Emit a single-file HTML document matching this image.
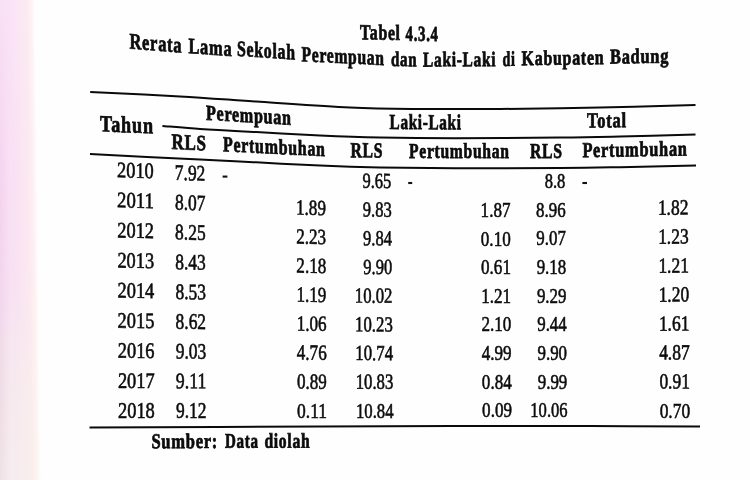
<!DOCTYPE html>
<html><head><meta charset="utf-8"><title>Tabel 4.3.4</title>
<style>
html,body{margin:0;padding:0;}
body{width:750px;height:480px;overflow:hidden;background:#fefefe;position:relative;font-family:"Liberation Serif",serif;color:#0c0c0c;}
.bg{position:absolute;left:0;top:0;width:60px;height:480px;overflow:hidden;
 background:linear-gradient(to bottom, #f9e3f6 0px, #f9e0f5 180px, #f8e1f3 290px, #f6e9ee 380px, #f6ecee 480px);}
.bg b{position:absolute;left:0;top:0;width:10px;height:480px;
 background:linear-gradient(to bottom, rgba(228,170,215,0.03) 0px, rgba(228,170,215,0.24) 200px, rgba(225,175,212,0.22) 280px, rgba(205,180,195,0.22) 400px, rgba(205,185,195,0.2) 480px);
 -webkit-mask-image:linear-gradient(to right, #000 0px, rgba(0,0,0,0.6) 4px, transparent 10px);mask-image:linear-gradient(to right, #000 0px, rgba(0,0,0,0.6) 4px, transparent 10px);}
.bg i{position:absolute;left:-10px;top:0;width:90px;height:480px;transform-origin:0 0;transform:skewX(0.72deg);
 background:linear-gradient(to right, rgba(254,240,238,0.0) 21px, rgba(254,240,236,0.5) 36px, rgba(254,246,242,0.75) 41px, #fefefe 45px);}
.t{position:absolute;left:0;top:0;line-height:1;white-space:pre;transform-origin:0 0;-webkit-text-stroke:0.6px #0c0c0c;}
.ink{position:absolute;left:0;top:0;width:750px;height:480px;filter:blur(0.35px);}
.r{position:absolute;left:0;top:0;}
</style></head><body>
<div class="bg"><b></b><i></i></div>
<div class="ink">
<svg class="r" width="750" height="480" viewBox="0 0 750 480"><path d="M90.20,92.00 C105.17,92.73 151.70,94.77 180.00,96.40 C208.30,98.03 231.67,99.95 260.00,101.80 C288.33,103.65 323.33,106.30 350.00,107.50 C376.67,108.70 395.00,108.75 420.00,109.00 C445.00,109.25 470.00,109.23 500.00,109.00 C530.00,108.77 567.42,108.25 600.00,107.60 C632.58,106.95 679.58,105.52 695.50,105.10" stroke="#0a0a0a" stroke-width="2.0" fill="none"/><path d="M162.40,126.00 C168.67,126.50 187.90,128.18 200.00,129.00 C212.10,129.82 215.00,129.83 235.00,130.90 C255.00,131.97 295.83,134.30 320.00,135.40 C344.17,136.50 357.50,137.02 380.00,137.50 C402.50,137.98 425.00,138.28 455.00,138.30 C485.00,138.32 532.50,137.90 560.00,137.60 C587.50,137.30 597.42,137.02 620.00,136.50 C642.58,135.98 682.92,134.83 695.50,134.50" stroke="#0a0a0a" stroke-width="2.0" fill="none"/><path d="M90.00,154.00 C108.33,154.93 175.83,158.40 200.00,159.60 C224.17,160.80 215.00,160.20 235.00,161.20 C255.00,162.20 295.83,164.55 320.00,165.60 C344.17,166.65 357.50,167.07 380.00,167.50 C402.50,167.93 425.00,168.12 455.00,168.20 C485.00,168.28 532.50,168.17 560.00,168.00 C587.50,167.83 597.33,167.60 620.00,167.20 C642.67,166.80 683.33,165.87 696.00,165.60" stroke="#0a0a0a" stroke-width="2.0" fill="none"/><path d="M89.50,427.40 C127.92,427.25 256.58,426.73 320.00,426.50 C383.42,426.27 425.00,426.07 470.00,426.00 C515.00,425.93 551.67,426.00 590.00,426.10 C628.33,426.20 681.67,426.52 700.00,426.60" stroke="#0a0a0a" stroke-width="2.0" fill="none"/><path d="M222.6,176.6 L227.4,176.6" stroke="#111" stroke-width="2.1" fill="none"/><path d="M408.2,183.0 L412.2,183.0" stroke="#111" stroke-width="2.1" fill="none"/><path d="M582.4,183.0 L587,183.0" stroke="#111" stroke-width="2.1" fill="none"/></svg>
<span class="t" style="font-size:21.4px;font-weight:bold;-webkit-text-stroke-width:0.75px;letter-spacing:0.96px;transform:translate(360.00px,40.10px) skewY(1.00deg) scaleX(0.7381) translate(-0.00px,-17.92px)">Tabel</span>
<span class="t" style="font-size:21.4px;font-weight:bold;-webkit-text-stroke-width:0.75px;letter-spacing:0.96px;transform:translate(405.60px,41.60px) skewY(0.88deg) scaleX(0.6945) translate(-0.00px,-17.92px)">4.3.4</span>
<span class="t" style="font-size:22.3px;font-weight:bold;-webkit-text-stroke-width:0.75px;letter-spacing:1.00px;transform:translate(129.40px,49.20px) skewY(4.38deg) scaleX(0.7390) translate(-0.00px,-18.68px)">Rerata</span>
<span class="t" style="font-size:22.0px;font-weight:bold;-webkit-text-stroke-width:0.75px;letter-spacing:0.99px;transform:translate(188.40px,53.40px) skewY(3.97deg) scaleX(0.7452) translate(-0.00px,-18.43px)">Lama</span>
<span class="t" style="font-size:21.8px;font-weight:bold;-webkit-text-stroke-width:0.75px;letter-spacing:0.98px;transform:translate(237.00px,57.00px) skewY(3.65deg) scaleX(0.7269) translate(-0.00px,-18.26px)">Sekolah</span>
<span class="t" style="font-size:21.4px;font-weight:bold;-webkit-text-stroke-width:0.75px;letter-spacing:0.96px;transform:translate(301.60px,62.10px) skewY(2.71deg) scaleX(0.7286) translate(-0.00px,-17.92px)">Perempuan</span>
<span class="t" style="font-size:21.0px;font-weight:bold;-webkit-text-stroke-width:0.75px;letter-spacing:0.94px;transform:translate(391.00px,66.60px) skewY(0.45deg) scaleX(0.7160) translate(-0.00px,-17.59px)">dan</span>
<span class="t" style="font-size:21.0px;font-weight:bold;-webkit-text-stroke-width:0.75px;letter-spacing:0.94px;transform:translate(423.00px,67.00px) skewY(-0.16deg) scaleX(0.7363) translate(-0.00px,-17.59px)">Laki-Laki</span>
<span class="t" style="font-size:21.0px;font-weight:bold;-webkit-text-stroke-width:0.75px;letter-spacing:0.94px;transform:translate(502.60px,66.60px) skewY(-0.92deg) scaleX(0.6710) translate(-0.00px,-17.59px)">di</span>
<span class="t" style="font-size:21.0px;font-weight:bold;-webkit-text-stroke-width:0.75px;letter-spacing:0.94px;transform:translate(521.60px,65.80px) skewY(-0.70deg) scaleX(0.7597) translate(-0.00px,-17.59px)">Kabupaten</span>
<span class="t" style="font-size:21.0px;font-weight:bold;-webkit-text-stroke-width:0.75px;letter-spacing:0.94px;transform:translate(610.00px,64.20px) skewY(-0.98deg) scaleX(0.7812) translate(-0.00px,-17.59px)">Badung</span>
<span class="t" style="font-size:23.2px;font-weight:bold;-webkit-text-stroke-width:0.75px;letter-spacing:1.04px;transform:translate(100.00px,131.80px) skewY(2.16deg) scaleX(0.7817) translate(-0.00px,-19.43px)">Tahun</span>
<span class="t" style="font-size:21.4px;font-weight:bold;-webkit-text-stroke-width:0.75px;letter-spacing:0.96px;transform:translate(206.00px,120.60px) skewY(3.37deg) scaleX(0.7516) translate(-0.00px,-17.92px)">Perempuan</span>
<span class="t" style="font-size:21.8px;font-weight:bold;-webkit-text-stroke-width:0.75px;letter-spacing:0.98px;transform:translate(171.40px,150.10px) skewY(2.48deg) scaleX(0.7799) translate(-0.00px,-18.26px)">RLS</span>
<span class="t" style="font-size:21.4px;font-weight:bold;-webkit-text-stroke-width:0.75px;letter-spacing:0.96px;transform:translate(223.00px,152.10px) skewY(2.81deg) scaleX(0.7453) translate(-0.00px,-17.92px)">Pertumbuhan</span>
<span class="t" style="font-size:21.4px;font-weight:bold;-webkit-text-stroke-width:0.75px;letter-spacing:0.96px;transform:translate(389.60px,129.90px) skewY(0.24deg) scaleX(0.7106) translate(-0.00px,-17.92px)">Laki-Laki</span>
<span class="t" style="font-size:21.4px;font-weight:bold;-webkit-text-stroke-width:0.75px;letter-spacing:0.96px;transform:translate(350.40px,158.20px) skewY(0.36deg) scaleX(0.7348) translate(-0.00px,-17.92px)">RLS</span>
<span class="t" style="font-size:21.4px;font-weight:bold;-webkit-text-stroke-width:0.75px;letter-spacing:0.96px;transform:translate(409.00px,159.20px) skewY(0.00deg) scaleX(0.7307) translate(-0.00px,-17.92px)">Pertumbuhan</span>
<span class="t" style="font-size:21.4px;font-weight:bold;-webkit-text-stroke-width:0.75px;letter-spacing:0.96px;transform:translate(530.00px,158.90px) skewY(0.00deg) scaleX(0.7348) translate(-0.00px,-17.92px)">RLS</span>
<span class="t" style="font-size:21.4px;font-weight:bold;-webkit-text-stroke-width:0.75px;letter-spacing:0.96px;transform:translate(587.00px,128.50px) skewY(-0.59deg) scaleX(0.7706) translate(-0.00px,-17.92px)">Total</span>
<span class="t" style="font-size:21.4px;font-weight:bold;-webkit-text-stroke-width:0.75px;letter-spacing:0.96px;transform:translate(582.40px,158.10px) skewY(-0.93deg) scaleX(0.7643) translate(-0.00px,-17.92px)">Pertumbuhan</span>
<span class="t" style="font-size:21.2px;font-weight:bold;-webkit-text-stroke-width:0.75px;letter-spacing:0.95px;transform:translate(151.40px,449.00px) skewY(-0.17deg) scaleX(0.7798) translate(-0.00px,-17.75px)">Sumber:</span>
<span class="t" style="font-size:21.0px;font-weight:bold;-webkit-text-stroke-width:0.75px;letter-spacing:0.94px;transform:translate(225.00px,448.40px) skewY(-0.17deg) scaleX(0.7175) translate(-0.00px,-17.59px)">Data</span>
<span class="t" style="font-size:21.0px;font-weight:bold;-webkit-text-stroke-width:0.75px;letter-spacing:0.94px;transform:translate(264.40px,448.30px) skewY(-0.13deg) scaleX(0.7441) translate(-0.00px,-17.59px)">diolah</span>
<span class="t" style="font-size:22.2px;transform:translate(117.00px,177.80px) skewY(1.60deg) scaleX(0.8288) translate(-0.00px,-18.59px)">2010</span>
<span class="t" style="font-size:22.2px;transform:translate(174.80px,180.40px) skewY(1.72deg) scaleX(0.7865) translate(-0.00px,-18.59px)">7.92</span>
<span class="t" style="font-size:21.6px;transform:translate(362.45px,188.85px) skewY(0.69deg) scaleX(0.7658) translate(-0.00px,-18.09px)">9.65</span>
<span class="t" style="font-size:21.6px;transform:translate(544.72px,189.10px) skewY(0.00deg) scaleX(0.7659) translate(-0.00px,-18.09px)">8.8</span>
<span class="t" style="font-size:22.2px;transform:translate(117.12px,207.90px) skewY(1.40deg) scaleX(0.8447) translate(-0.00px,-18.59px)">2011</span>
<span class="t" style="font-size:22.2px;transform:translate(174.95px,210.18px) skewY(1.50deg) scaleX(0.7865) translate(-0.00px,-18.59px)">8.07</span>
<span class="t" style="font-size:21.6px;transform:translate(296.04px,215.61px) skewY(1.50deg) scaleX(0.7914) translate(-0.00px,-18.09px)">1.89</span>
<span class="t" style="font-size:21.6px;transform:translate(362.73px,217.58px) skewY(0.60deg) scaleX(0.7658) translate(-0.00px,-18.09px)">9.83</span>
<span class="t" style="font-size:21.6px;transform:translate(480.60px,218.00px) skewY(0.00deg) scaleX(0.7914) translate(-0.00px,-18.09px)">1.87</span>
<span class="t" style="font-size:21.6px;transform:translate(536.08px,217.78px) skewY(0.00deg) scaleX(0.7828) translate(-0.00px,-18.09px)">8.96</span>
<span class="t" style="font-size:21.6px;transform:translate(657.89px,215.92px) skewY(-0.60deg) scaleX(0.8084) translate(-0.00px,-18.09px)">1.82</span>
<span class="t" style="font-size:22.2px;transform:translate(117.25px,238.00px) skewY(1.20deg) scaleX(0.8288) translate(-0.00px,-18.59px)">2012</span>
<span class="t" style="font-size:22.2px;transform:translate(175.10px,239.96px) skewY(1.29deg) scaleX(0.7865) translate(-0.00px,-18.59px)">8.25</span>
<span class="t" style="font-size:21.6px;transform:translate(296.19px,244.63px) skewY(1.29deg) scaleX(0.7914) translate(-0.00px,-18.09px)">2.23</span>
<span class="t" style="font-size:21.6px;transform:translate(363.00px,246.30px) skewY(0.52deg) scaleX(0.7658) translate(-0.00px,-18.09px)">9.84</span>
<span class="t" style="font-size:21.6px;transform:translate(480.81px,246.62px) skewY(0.00deg) scaleX(0.7914) translate(-0.00px,-18.09px)">0.10</span>
<span class="t" style="font-size:21.6px;transform:translate(536.36px,246.46px) skewY(0.00deg) scaleX(0.7828) translate(-0.00px,-18.09px)">9.07</span>
<span class="t" style="font-size:21.6px;transform:translate(658.14px,244.88px) skewY(-0.52deg) scaleX(0.8084) translate(-0.00px,-18.09px)">1.23</span>
<span class="t" style="font-size:22.2px;transform:translate(117.38px,268.10px) skewY(1.00deg) scaleX(0.8288) translate(-0.00px,-18.59px)">2013</span>
<span class="t" style="font-size:22.2px;transform:translate(175.25px,269.74px) skewY(1.07deg) scaleX(0.7865) translate(-0.00px,-18.59px)">8.43</span>
<span class="t" style="font-size:21.6px;transform:translate(296.34px,273.64px) skewY(1.07deg) scaleX(0.7914) translate(-0.00px,-18.09px)">2.18</span>
<span class="t" style="font-size:21.6px;transform:translate(363.28px,275.02px) skewY(0.43deg) scaleX(0.7658) translate(-0.00px,-18.09px)">9.90</span>
<span class="t" style="font-size:21.6px;transform:translate(481.02px,275.24px) skewY(0.00deg) scaleX(0.7914) translate(-0.00px,-18.09px)">0.61</span>
<span class="t" style="font-size:21.6px;transform:translate(536.63px,275.14px) skewY(0.00deg) scaleX(0.7828) translate(-0.00px,-18.09px)">9.18</span>
<span class="t" style="font-size:21.6px;transform:translate(658.39px,273.83px) skewY(-0.43deg) scaleX(0.8084) translate(-0.00px,-18.09px)">1.21</span>
<span class="t" style="font-size:22.2px;transform:translate(117.50px,298.20px) skewY(0.80deg) scaleX(0.8288) translate(-0.00px,-18.59px)">2014</span>
<span class="t" style="font-size:22.2px;transform:translate(175.40px,299.52px) skewY(0.86deg) scaleX(0.7865) translate(-0.00px,-18.59px)">8.53</span>
<span class="t" style="font-size:21.6px;transform:translate(296.49px,302.65px) skewY(0.86deg) scaleX(0.7914) translate(-0.00px,-18.09px)">1.19</span>
<span class="t" style="font-size:21.6px;transform:translate(354.82px,303.69px) skewY(0.34deg) scaleX(0.7752) translate(-0.00px,-18.09px)">10.02</span>
<span class="t" style="font-size:21.6px;transform:translate(481.24px,303.86px) skewY(0.00deg) scaleX(0.7914) translate(-0.00px,-18.09px)">1.21</span>
<span class="t" style="font-size:21.6px;transform:translate(536.91px,303.82px) skewY(0.00deg) scaleX(0.7828) translate(-0.00px,-18.09px)">9.29</span>
<span class="t" style="font-size:21.6px;transform:translate(658.64px,302.78px) skewY(-0.34deg) scaleX(0.8084) translate(-0.00px,-18.09px)">1.20</span>
<span class="t" style="font-size:22.2px;transform:translate(117.62px,328.30px) skewY(0.60deg) scaleX(0.8288) translate(-0.00px,-18.59px)">2015</span>
<span class="t" style="font-size:22.2px;transform:translate(175.55px,329.30px) skewY(0.64deg) scaleX(0.7865) translate(-0.00px,-18.59px)">8.62</span>
<span class="t" style="font-size:21.6px;transform:translate(296.64px,331.66px) skewY(0.64deg) scaleX(0.7914) translate(-0.00px,-18.09px)">1.06</span>
<span class="t" style="font-size:21.6px;transform:translate(355.10px,332.43px) skewY(0.26deg) scaleX(0.7752) translate(-0.00px,-18.09px)">10.23</span>
<span class="t" style="font-size:21.6px;transform:translate(481.45px,332.48px) skewY(0.00deg) scaleX(0.7914) translate(-0.00px,-18.09px)">2.10</span>
<span class="t" style="font-size:21.6px;transform:translate(537.18px,332.50px) skewY(0.00deg) scaleX(0.7828) translate(-0.00px,-18.09px)">9.44</span>
<span class="t" style="font-size:21.6px;transform:translate(658.89px,331.74px) skewY(-0.26deg) scaleX(0.8084) translate(-0.00px,-18.09px)">1.61</span>
<span class="t" style="font-size:22.2px;transform:translate(117.75px,358.40px) skewY(0.40deg) scaleX(0.8288) translate(-0.00px,-18.59px)">2016</span>
<span class="t" style="font-size:22.2px;transform:translate(175.70px,359.08px) skewY(0.43deg) scaleX(0.7865) translate(-0.00px,-18.59px)">9.03</span>
<span class="t" style="font-size:21.6px;transform:translate(296.79px,360.68px) skewY(0.43deg) scaleX(0.7914) translate(-0.00px,-18.09px)">4.76</span>
<span class="t" style="font-size:21.6px;transform:translate(355.37px,361.17px) skewY(0.17deg) scaleX(0.7752) translate(-0.00px,-18.09px)">10.74</span>
<span class="t" style="font-size:21.6px;transform:translate(481.66px,361.10px) skewY(0.00deg) scaleX(0.7914) translate(-0.00px,-18.09px)">4.99</span>
<span class="t" style="font-size:21.6px;transform:translate(537.46px,361.18px) skewY(0.00deg) scaleX(0.7828) translate(-0.00px,-18.09px)">9.90</span>
<span class="t" style="font-size:21.6px;transform:translate(659.14px,360.69px) skewY(-0.17deg) scaleX(0.8084) translate(-0.00px,-18.09px)">4.87</span>
<span class="t" style="font-size:22.2px;transform:translate(117.88px,388.50px) skewY(0.20deg) scaleX(0.8288) translate(-0.00px,-18.59px)">2017</span>
<span class="t" style="font-size:22.2px;transform:translate(175.85px,388.86px) skewY(0.21deg) scaleX(0.8037) translate(-0.00px,-18.59px)">9.11</span>
<span class="t" style="font-size:21.6px;transform:translate(296.94px,389.69px) skewY(0.21deg) scaleX(0.7914) translate(-0.00px,-18.09px)">0.89</span>
<span class="t" style="font-size:21.6px;transform:translate(355.65px,389.90px) skewY(0.09deg) scaleX(0.7752) translate(-0.00px,-18.09px)">10.83</span>
<span class="t" style="font-size:21.6px;transform:translate(481.87px,389.72px) skewY(0.00deg) scaleX(0.7914) translate(-0.00px,-18.09px)">0.84</span>
<span class="t" style="font-size:21.6px;transform:translate(537.73px,389.86px) skewY(0.00deg) scaleX(0.7828) translate(-0.00px,-18.09px)">9.99</span>
<span class="t" style="font-size:21.6px;transform:translate(659.39px,389.65px) skewY(-0.09deg) scaleX(0.8084) translate(-0.00px,-18.09px)">0.91</span>
<span class="t" style="font-size:22.2px;transform:translate(118.00px,418.60px) skewY(0.00deg) scaleX(0.8288) translate(-0.00px,-18.59px)">2018</span>
<span class="t" style="font-size:22.2px;transform:translate(176.00px,418.64px) skewY(0.00deg) scaleX(0.7865) translate(-0.00px,-18.59px)">9.12</span>
<span class="t" style="font-size:21.6px;transform:translate(297.09px,418.70px) skewY(0.00deg) scaleX(0.8087) translate(-0.00px,-18.09px)">0.11</span>
<span class="t" style="font-size:21.6px;transform:translate(355.92px,418.64px) skewY(0.00deg) scaleX(0.7752) translate(-0.00px,-18.09px)">10.84</span>
<span class="t" style="font-size:21.6px;transform:translate(482.09px,418.34px) skewY(0.00deg) scaleX(0.7914) translate(-0.00px,-18.09px)">0.09</span>
<span class="t" style="font-size:21.6px;transform:translate(530.34px,418.54px) skewY(0.00deg) scaleX(0.7667) translate(-0.00px,-18.09px)">10.06</span>
<span class="t" style="font-size:21.6px;transform:translate(659.64px,418.60px) skewY(0.00deg) scaleX(0.8084) translate(-0.00px,-18.09px)">0.70</span>
</div>
</body></html>
